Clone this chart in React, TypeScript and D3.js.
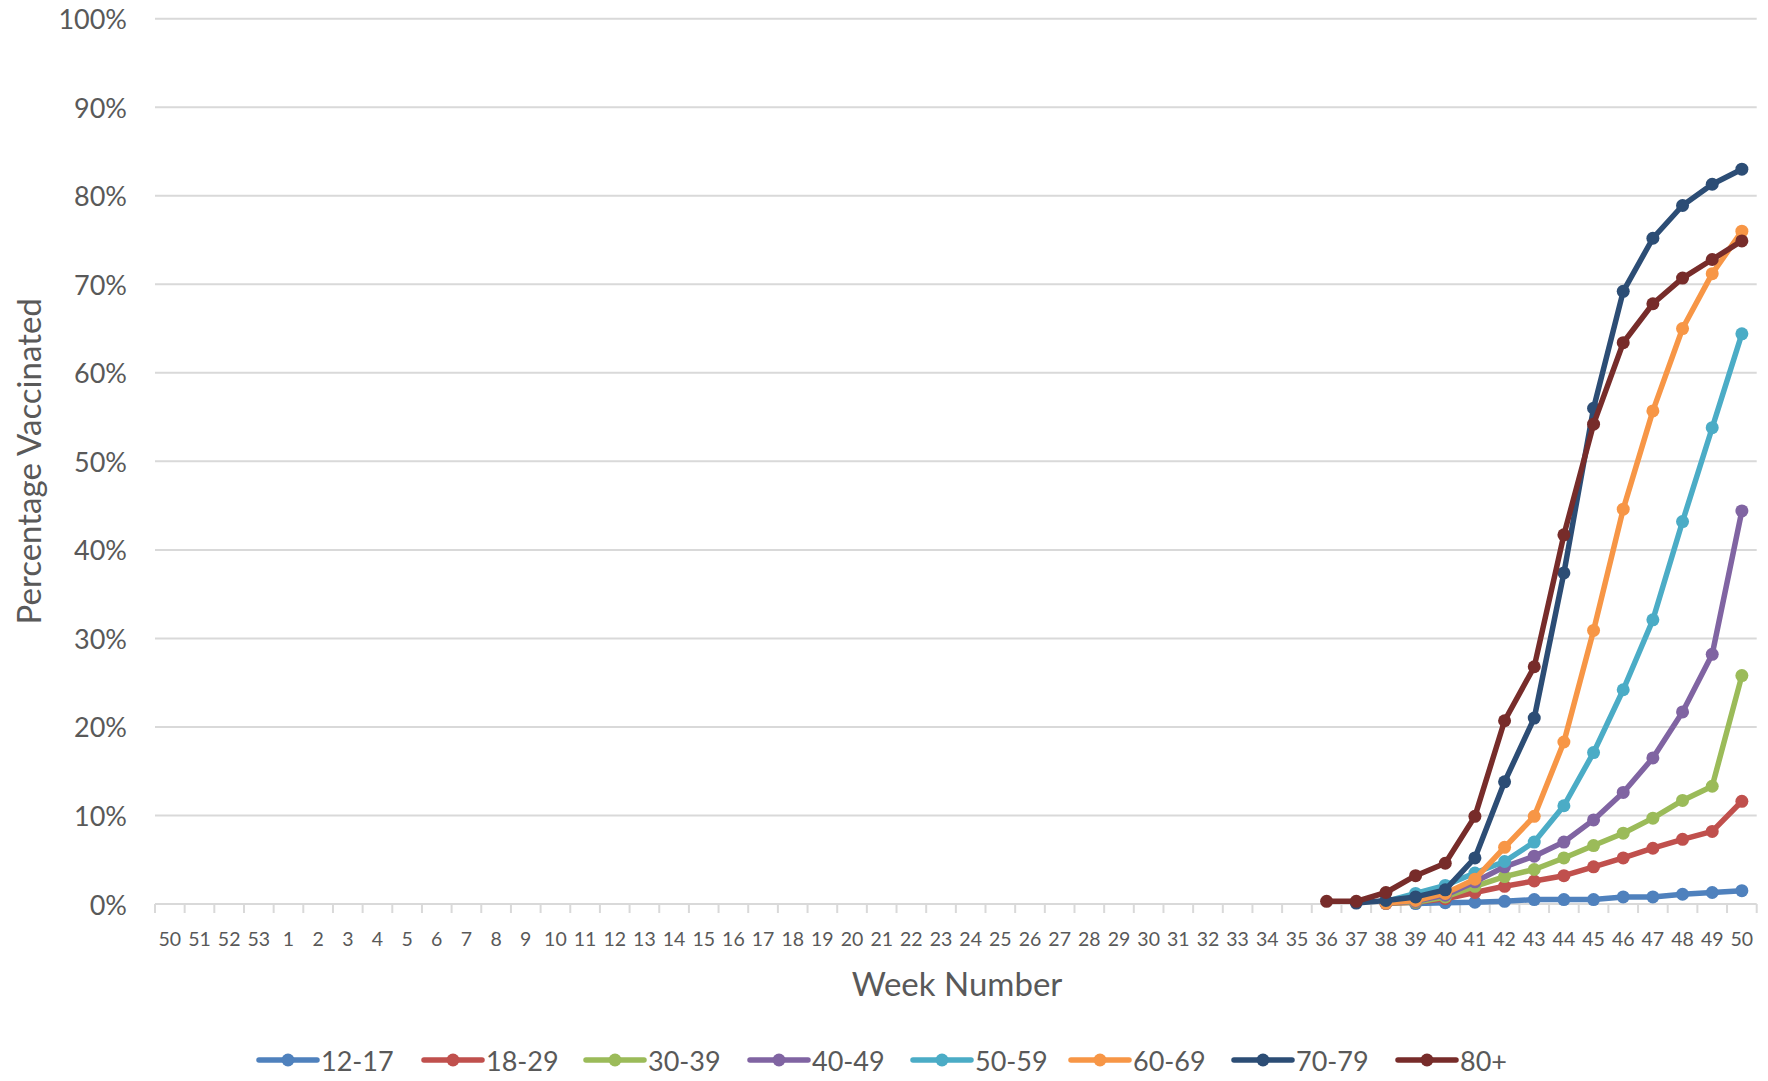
import React, { useEffect } from "react";
import * as d3 from "d3";

const weekLabels: string[] = ["50", "51", "52", "53", ...d3.range(1, 51).map(String)];
const dataWeeks: number[] = d3.range(36, 51);
const seriesNames: string[] = ["12-17", "18-29", "30-39", "40-49", "50-59", "60-69", "70-79", "80+"];
const seriesColors: string[] = ["#4f81bd", "#c0504d", "#9bbb59", "#8064a2", "#4bacc6", "#f79646", "#2c4d75", "#772c2a"];
const yTicks: number[] = [0, 10, 20, 30, 40, 50, 60, 70, 80, 90, 100];

// values for weeks 36..50 (null = no data)
const v1217: (number | null)[] = [null, null, null, 0.05, 0.15, 0.2, 0.3, 0.5, 0.5, 0.5, 0.8, 0.8, 1.1, 1.3, 1.5];
const v1829: (number | null)[] = [null, null, 0.05, 0.2, 0.6, 1.3, 2.0, 2.6, 3.2, 4.2, 5.2, 6.3, 7.3, 8.2, 11.6];
const v3039: (number | null)[] = [null, null, 0.1, 0.2, 0.8, 2.0, 3.1, 3.9, 5.2, 6.6, 8.0, 9.7, 11.7, 13.3, 25.8];
const v4049: (number | null)[] = [null, null, 0.1, 0.3, 1.0, 2.5, 4.2, 5.4, 7.0, 9.5, 12.6, 16.5, 21.7, 28.2, 44.4];
const v5059: (number | null)[] = [null, null, 0.3, 1.2, 2.1, 3.5, 4.8, 7.0, 11.1, 17.1, 24.2, 32.1, 43.2, 53.8, 64.4];
const v6069: (number | null)[] = [null, null, 0.1, 0.4, 1.2, 2.8, 6.4, 9.9, 18.3, 30.9, 44.6, 55.7, 65.0, 71.2, 76.0];
const v7079: (number | null)[] = [null, 0.1, 0.4, 0.8, 1.6, 5.2, 13.8, 21.0, 37.4, 56.0, 69.2, 75.2, 78.9, 81.3, 83.0];
const v80: (number | null)[] = [0.3, 0.3, 1.3, 3.2, 4.6, 9.9, 20.7, 26.8, 41.7, 54.2, 63.4, 67.8, 70.7, 72.8, 74.9];

const seriesValues = [v1217, v1829, v3039, v4049, v5059, v6069, v7079, v80];

const W = 1768;
const H = 1081;
const left = 155;
const right = 1756.7;
const top = 18.7;
const bottom = 904;
const FONT = "Lato, 'Open Sans', sans-serif";
const TEXT = "#595959";

export default function App() {
  useEffect(() => {
    document.body.style.margin = "0";
  }, []);

  const x = d3
    .scaleBand<number>()
    .domain(d3.range(weekLabels.length))
    .range([left, right])
    .paddingInner(0)
    .paddingOuter(0);
  const bw = x.bandwidth();
  const cx = (i: number) => (x(i) as number) + bw / 2;
  const y = d3.scaleLinear().domain([0, 100]).range([bottom, top]);

  // index of week w in 2nd year: week w -> index w + 3
  const idx = (w: number) => w + 3;

  const line = d3
    .line<{ i: number; v: number | null }>()
    .defined((d) => d.v !== null)
    .x((d) => cx(d.i))
    .y((d) => y(d.v as number));

  const legendX = [259, 424, 586, 750, 913, 1071, 1234, 1398];
  const legendY = 1060;

  return (
    <svg width={W} height={H} style={{ display: "block", background: "#fff" }}>
      {/* gridlines */}
      {yTicks.slice(1).map((t) => (
        <line key={t} x1={left} x2={right} y1={y(t)} y2={y(t)} stroke="#d9d9d9" strokeWidth={2} />
      ))}
      {/* x axis */}
      <line x1={left} x2={right} y1={bottom} y2={bottom} stroke="#d9d9d9" strokeWidth={2} />
      {d3.range(weekLabels.length + 1).map((i) => (
        <line
          key={"t" + i}
          x1={left + i * bw}
          x2={left + i * bw}
          y1={bottom}
          y2={bottom + 9}
          stroke="#d9d9d9"
          strokeWidth={2}
        />
      ))}
      {/* y tick labels */}
      {yTicks.map((t) => (
        <text
          key={"yl" + t}
          x={127}
          y={y(t)}
          textAnchor="end"
          dominantBaseline="central"
          fontFamily={FONT}
          fontSize={27}
          fill={TEXT}
        >
          {t}%
        </text>
      ))}
      {/* x tick labels */}
      {weekLabels.map((l, i) => (
        <text
          key={"xl" + i}
          x={cx(i)}
          y={938}
          textAnchor="middle"
          dominantBaseline="central"
          fontFamily={FONT}
          fontSize={19.5}
          fill={TEXT}
        >
          {l}
        </text>
      ))}
      {/* axis titles */}
      <text x={957} y={983} textAnchor="middle" dominantBaseline="central" fontFamily={FONT} fontSize={33} fill={TEXT}>
        Week Number
      </text>
      <text
        transform={`translate(28,${(top + bottom) / 2}) rotate(-90)`}
        textAnchor="middle"
        dominantBaseline="central"
        fontFamily={FONT}
        fontSize={33}
        fill={TEXT}
      >
        Percentage Vaccinated
      </text>
      {/* series */}
      {seriesValues.map((vals, s) => {
        const pts = vals.map((v, k) => ({ i: idx(dataWeeks[k]), v }));
        return (
          <g key={seriesNames[s]}>
            <path d={line(pts) || ""} fill="none" stroke={seriesColors[s]} strokeWidth={5.5} strokeLinejoin="round" strokeLinecap="round" />
            {pts
              .filter((p) => p.v !== null)
              .map((p) => (
                <circle key={p.i} cx={cx(p.i)} cy={y(p.v as number)} r={6.5} fill={seriesColors[s]} />
              ))}
          </g>
        );
      })}
      {/* legend */}
      {seriesNames.map((n, s) => (
        <g key={"lg" + n}>
          <line
            x1={legendX[s]}
            x2={legendX[s] + 58}
            y1={legendY}
            y2={legendY}
            stroke={seriesColors[s]}
            strokeWidth={5.5}
            strokeLinecap="round"
          />
          <circle cx={legendX[s] + 29} cy={legendY} r={6.5} fill={seriesColors[s]} />
          <text
            x={legendX[s] + 62}
            y={legendY}
            dominantBaseline="central"
            fontFamily={FONT}
            fontSize={27}
            fill={TEXT}
          >
            {n}
          </text>
        </g>
      ))}
    </svg>
  );
}
